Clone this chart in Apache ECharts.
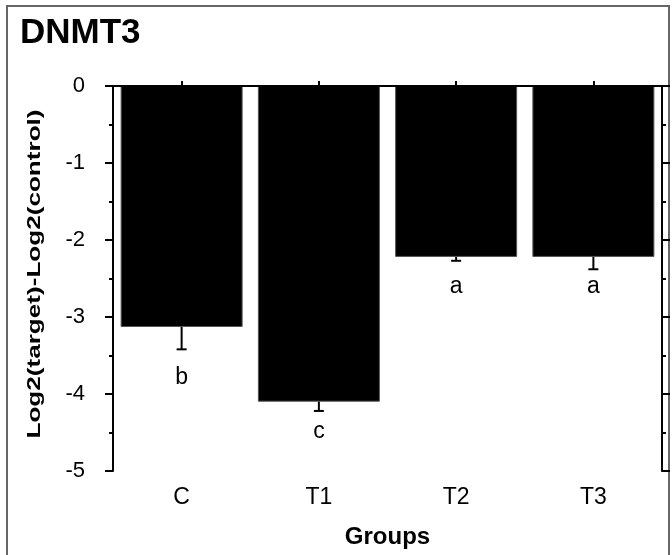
<!DOCTYPE html>
<html>
<head>
<meta charset="utf-8">
<script src="https://cdn.jsdelivr.net/npm/echarts@6/dist/echarts.min.js"></script>
<style>html,body{margin:0;padding:0;background:#fff}#c{width:672px;height:555px}</style>
</head>
<body>
<div id="c"></div>
<script>
const categories = ['C', 'T1', 'T2', 'T3'];
const means = [-3.13, -4.10, -2.22, -2.22];
const errors = [0.29, 0.12, 0.05, 0.16];
const letters = ['b', 'c', 'a', 'a'];
const letterY = [-3.79, -4.49, -2.61, -2.61];
const yTicks = { min: -5, max: 0, interval: 1 };
const yAxisTitle = 'Log2(target)-Log2(control)';

const FONT = 'Liberation Sans, Arial, sans-serif';

const chart = echarts.init(document.getElementById('c'), null, { renderer: 'canvas' });

const errData = categories.map((c, i) => [i, means[i], means[i] - errors[i]]);
const letterData = categories.map((c, i) => [i, letterY[i], letters[i]]);

const yCommon = {
  type: 'value', min: yTicks.min, max: yTicks.max, interval: yTicks.interval,
  z: 5,
  splitLine: { show: false },
  axisLine: { show: true, lineStyle: { color: '#000', width: 2 } },
  axisTick: { show: true, inside: false, length: 8, lineStyle: { color: '#000', width: 2 } },
  minorTick: { show: true, splitNumber: 2, length: 4, lineStyle: { color: '#000', width: 2 } }
};

chart.setOption({
  animation: false,
  backgroundColor: '#fff',
  title: {
    text: 'DNMT3', left: 15, top: 11,
    textStyle: { fontFamily: FONT, fontWeight: 'bold', fontSize: 35, color: '#000' }
  },
  grid: { left: 113, right: 10, top: 86, bottom: 84 },
  xAxis: [
    {
      type: 'category', data: categories, position: 'bottom', z: 5,
      axisLine: { show: true, lineStyle: { color: '#000', width: 2 } },
      axisTick: { show: true, alignWithLabel: true, length: 5, lineStyle: { color: '#000', width: 2 } },
      axisLabel: { margin: 15, fontFamily: FONT, fontSize: 23, color: '#000' },
      name: 'Groups', nameLocation: 'middle', nameGap: 54,
      nameTextStyle: { fontFamily: FONT, fontWeight: 'bold', fontSize: 24, color: '#000' }
    },
    {
      type: 'category', data: categories, position: 'top', z: 5,
      axisLine: { show: true, lineStyle: { color: '#000', width: 2 } },
      axisTick: { show: true, alignWithLabel: true, length: 5, lineStyle: { color: '#000', width: 2 } },
      axisLabel: { show: false }
    }
  ],
  yAxis: [
    Object.assign({}, yCommon, {
      position: 'left',
      axisLabel: { margin: 28, fontFamily: FONT, fontSize: 22, color: '#000' }
    }),
    Object.assign({}, yCommon, {
      position: 'right',
      axisLabel: { show: false }
    })
  ],
  series: [
    {
      type: 'bar', data: means, barWidth: 122,
      itemStyle: { color: '#000', borderColor: '#555', borderWidth: 1 },
      z: 2
    },
    {
      type: 'custom', data: errData, z: 3,
      renderItem: function (params, api) {
        const x = api.coord([api.value(0), api.value(1)]);
        const lo = api.coord([api.value(0), api.value(2)]);
        const half = 5;
        const st = { stroke: '#000', lineWidth: 2 };
        return {
          type: 'group',
          children: [
            { type: 'line', shape: { x1: x[0], y1: x[1], x2: lo[0], y2: lo[1] }, style: st },
            { type: 'line', shape: { x1: lo[0] - half, y1: lo[1], x2: lo[0] + half, y2: lo[1] }, style: st }
          ]
        };
      }
    },
    {
      type: 'custom', data: letterData, z: 4,
      renderItem: function (params, api) {
        const p = api.coord([api.value(0), api.value(1)]);
        return {
          type: 'text',
          style: {
            x: p[0], y: p[1], text: letters[params.dataIndex],
            align: 'center', verticalAlign: 'middle',
            font: '23px ' + FONT, fill: '#000'
          }
        };
      }
    }
  ],
  graphic: [
    {
      type: 'rect', shape: { x: 7, y: 6, width: 662, height: 560 },
      style: { fill: 'none', stroke: '#666', lineWidth: 2 }, silent: true
    },
    {
      type: 'text', x: 35, y: 274, rotation: Math.PI / 2, scaleX: 1.45, scaleY: 1.05,
      style: {
        text: yAxisTitle, x: 0, y: 0, align: 'center', verticalAlign: 'middle',
        font: 'bold 18px ' + FONT, fill: '#000'
      },
      silent: true
    }
  ]
});
</script>
</body>
</html>
